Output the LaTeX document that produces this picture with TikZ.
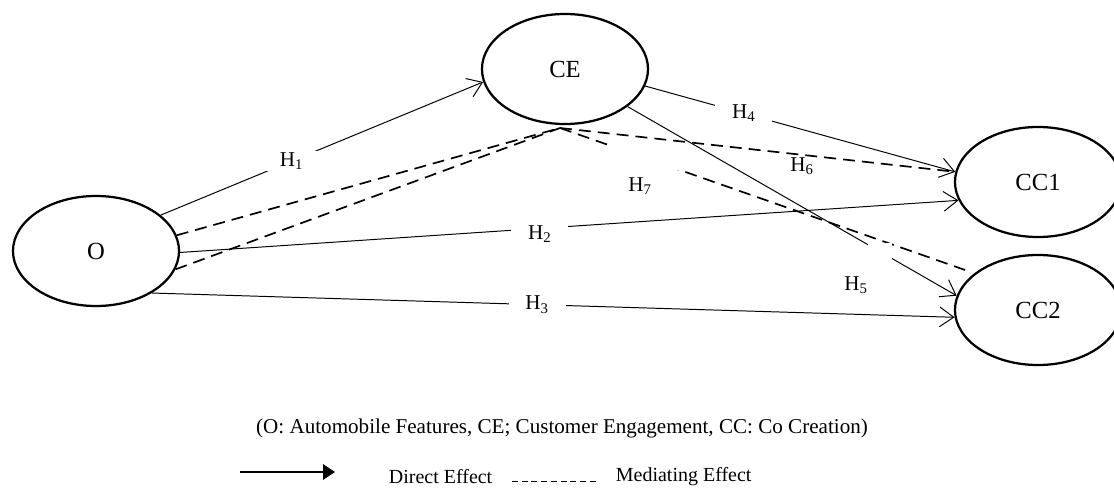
\documentclass[tikz,border=0pt]{standalone}
\usepackage{fontspec}
\setmainfont{Liberation Serif}
\usetikzlibrary{shapes.geometric, arrows.meta, calc}

\begin{document}
\begin{tikzpicture}[x=0.025cm, y=-0.025cm,
      latent/.style={ellipse, draw, line width=1.6pt, minimum width=4.15cm, minimum height=2.75cm, font=\fontsize{17.5}{20}\selectfont},
      direct/.style={-{Straight Barb[length=10pt, width=14pt]}, line width=0.7pt},
      med/.style={dash pattern=on 8.5pt off 5pt, line width=1.2pt},
      hyp/.style={fill=white, inner xsep=12pt, inner ysep=1pt, font=\fontsize{15}{17}\selectfont},
      gapbox/.style={fill=white, inner sep=0pt},
      lbl/.style={font=\fontsize{15}{17}\selectfont},
      keytext/.style={font=\fontsize{14.2}{17}\selectfont}
  ]
    \useasboundingbox (0,0) rectangle (1114,491);

    % Constructs
    \node[latent] (O) at (96, 251) {O};
    \node[latent] (CE) at (565, 69) {CE};
    \node[latent] (CC1) at (1038, 182) {CC1};
    \node[latent] (CC2) at (1038, 310) {CC2};
    \coordinate (ceb) at (560, 128);

    % Mediating paths
    \draw[med] (O.11) -- (ceb); \draw[med] (O.-13) -- (ceb);
    \draw[med] (ceb) -- (CC1.173);
    \draw[med, shorten >=7pt] (ceb) -- node[gapbox, pos=0.2, minimum width=51pt, minimum height=18pt] (g7) {} (CC2.150);

    % Direct paths
    \draw[direct] (O.29) -- node[hyp, pos=0.406] (h1) {H\textsubscript{1}} (CE.189);
    \draw[direct] (O.-1.4) -- node[hyp, pos=0.462, yshift=-4pt] (h2) {H\textsubscript{2}} (CC1.193);
    \draw[direct] (O.-37.5) -- node[hyp, pos=0.48] (h3) {H\textsubscript{3}} (CC2.185.4);
    \draw[direct] (CE.-12) -- node[hyp, pos=0.318] (h4) {H\textsubscript{4}} (CC1.173);
    \draw[direct] (CE.-31) -- node[gapbox, pos=0.766, minimum width=17pt, minimum height=11.4pt] (g5) {} (CC2.170.6);

    % Labels off the lines
    \node[lbl] (h5) at (856, 285) {H\textsubscript{5}};
    \node[lbl] (h6) at (802, 166) {H\textsubscript{6}};
    \node[lbl] (h7) at (640, 186) {H\textsubscript{7}};

    % Key
    \node[keytext, font=\fontsize{15}{17}\selectfont] (key) at (562, 428) {(O: Automobile Features, CE; Customer Engagement, CC: Co Creation)};
    \coordinate (d1) at (240, 472); \coordinate (d2) at (335, 472);
    \draw[line width=2pt, -{Triangle[length=8.5pt, width=10.7pt]}] (d1) -- (d2);
    \node[keytext, anchor=west] (dir) at (384, 477) {Direct Effect};
    \coordinate (m1) at (512, 481); \coordinate (m2) at (598, 481);
    \draw[line width=0.7pt, dash pattern=on 4.3pt off 2.6pt] (m1) -- (m2);
    \node[keytext, anchor=west] (medl) at (611, 477) {Mediating Effect};
  \end{tikzpicture}
\end{document}
